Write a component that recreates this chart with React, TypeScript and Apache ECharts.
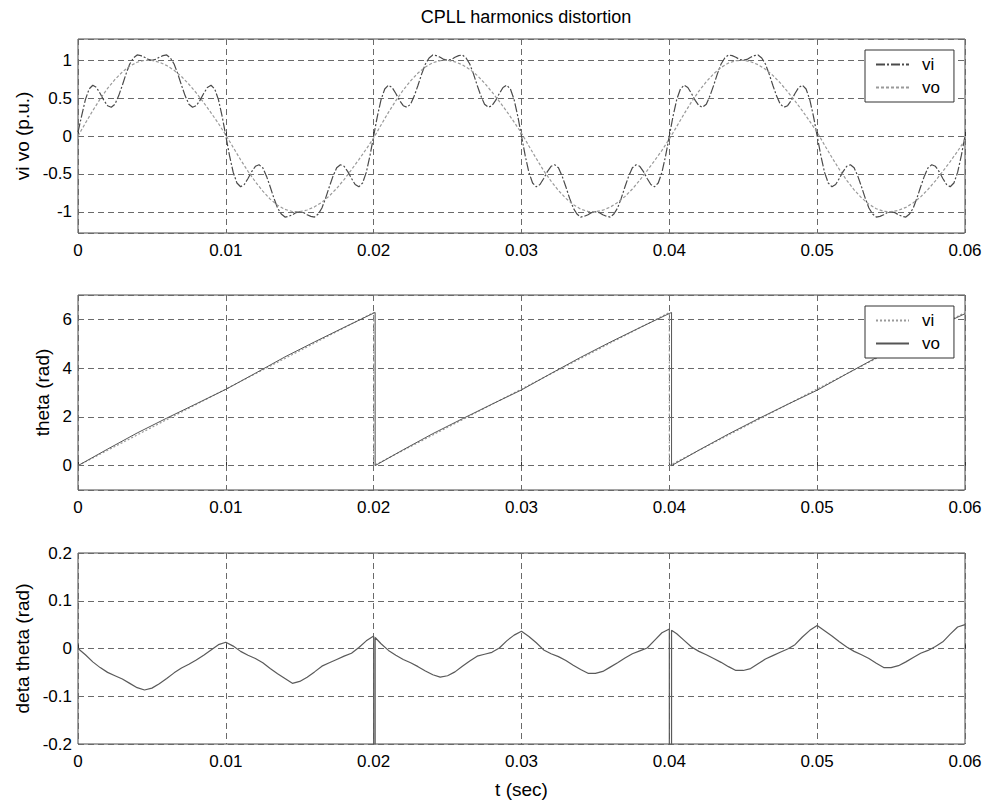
import React, { useEffect, useRef } from 'react';
import * as echarts from 'echarts';

const chartTitle = 'CPLL harmonics distortion';
const xTicks = [0, 0.01, 0.02, 0.03, 0.04, 0.05, 0.06];
const xTickLabels = ['0', '0.01', '0.02', '0.03', '0.04', '0.05', '0.06'];
const vTicks = [-1, -0.5, 0, 0.5, 1];
const vTickLabels = ['-1', '-0.5', '0', '0.5', '1'];
const thetaTicks = [0, 2, 4, 6];
const thetaTickLabels = ['0', '2', '4', '6'];
const detaTicks = [-0.2, -0.1, 0, 0.1, 0.2];
const detaTickLabels = ['-0.2', '-0.1', '0', '0.1', '0.2'];

// vi sampled every 0.25 ms (0 .. 60 ms)
const viStepSec = 0.00025;
const viValues = [
  0.05, 0.27, 0.48, 0.62, 0.67, 0.64, 0.56, 0.47, 0.40, 0.38, 0.42, 0.53, 0.67, 0.82, 0.95, 1.03, 1.07, 1.06, 1.04, 1.01, 1.00, 1.01, 1.04, 1.06, 1.07, 1.03, 0.95, 0.82, 0.67, 0.53, 0.42, 0.38, 0.40, 0.47, 0.56, 0.64, 0.67, 0.62, 0.48, 0.26,
  0, -0.26, -0.48, -0.62, -0.67, -0.64, -0.56, -0.47, -0.40, -0.38, -0.42, -0.53, -0.67, -0.82, -0.95, -1.03, -1.07, -1.06, -1.04, -1.01, -1.00, -1.01, -1.04, -1.06, -1.07, -1.03, -0.95, -0.82, -0.67, -0.53, -0.42, -0.38, -0.40, -0.47, -0.56, -0.64, -0.67, -0.62, -0.48, -0.26,
  0, 0.26, 0.48, 0.62, 0.67, 0.64, 0.56, 0.47, 0.40, 0.38, 0.42, 0.53, 0.67, 0.82, 0.95, 1.03, 1.07, 1.06, 1.04, 1.01, 1.00, 1.01, 1.04, 1.06, 1.07, 1.03, 0.95, 0.82, 0.67, 0.53, 0.42, 0.38, 0.40, 0.47, 0.56, 0.64, 0.67, 0.62, 0.48, 0.26,
  0, -0.26, -0.48, -0.62, -0.67, -0.64, -0.56, -0.47, -0.40, -0.38, -0.42, -0.53, -0.67, -0.82, -0.95, -1.03, -1.07, -1.06, -1.04, -1.01, -1.00, -1.01, -1.04, -1.06, -1.07, -1.03, -0.95, -0.82, -0.67, -0.53, -0.42, -0.38, -0.40, -0.47, -0.56, -0.64, -0.67, -0.62, -0.48, -0.26,
  0, 0.26, 0.48, 0.62, 0.67, 0.64, 0.56, 0.47, 0.40, 0.38, 0.42, 0.53, 0.67, 0.82, 0.95, 1.03, 1.07, 1.06, 1.04, 1.01, 1.00, 1.01, 1.04, 1.06, 1.07, 1.03, 0.95, 0.82, 0.67, 0.53, 0.42, 0.38, 0.40, 0.47, 0.56, 0.64, 0.67, 0.62, 0.48, 0.26,
  0, -0.26, -0.48, -0.62, -0.67, -0.64, -0.56, -0.47, -0.40, -0.38, -0.42, -0.53, -0.67, -0.82, -0.95, -1.03, -1.07, -1.06, -1.04, -1.01, -1.00, -1.01, -1.04, -1.06, -1.07, -1.03, -0.95, -0.82, -0.67, -0.53, -0.42, -0.38, -0.40, -0.47, -0.56, -0.64, -0.67, -0.62, -0.48, -0.26,
  0,
];

// vo sampled every 0.5 ms (0 .. 60 ms)
const voStepSec = 0.0005;
const voValues = [
  0, 0.169, 0.335, 0.489, 0.628, 0.746, 0.845, 0.922, 0.973, 0.998, 0.996, 0.974, 0.930, 0.867, 0.785, 0.683, 0.568, 0.442, 0.306, 0.165, 0.012,
  -0.151, -0.314, -0.466, -0.605, -0.727, -0.833, -0.914, -0.969, -0.996, -0.998, -0.977, -0.935, -0.874, -0.791, -0.691, -0.575, -0.445, -0.311, -0.172, -0.026,
  0.146, 0.312, 0.466, 0.606, 0.728, 0.831, 0.911, 0.967, 0.995, 0.998, 0.979, 0.939, 0.879, 0.800, 0.698, 0.581, 0.456, 0.324, 0.184, 0.037,
  -0.132, -0.297, -0.457, -0.596, -0.719, -0.823, -0.906, -0.964, -0.995, -0.999, -0.979, -0.939, -0.877, -0.798, -0.699, -0.584, -0.456, -0.326, -0.189, -0.040,
  0.125, 0.292, 0.451, 0.592, 0.716, 0.821, 0.904, 0.962, 0.994, 0.999, 0.980, 0.941, 0.880, 0.800, 0.701, 0.586, 0.462, 0.332, 0.194, 0.049,
  -0.120, -0.284, -0.441, -0.585, -0.711, -0.816, -0.900, -0.960, -0.993, -0.999, -0.981, -0.942, -0.882, -0.803, -0.705, -0.591, -0.466, -0.337, -0.201, -0.051,
];

// theta, [time ms, rad]
const thetaVi = [
  [0, 0], [2, 0.628], [4, 1.257], [6, 1.885], [8, 2.513], [10, 3.142], [12, 3.770], [14, 4.398], [16, 5.027], [18, 5.655], [20, 6.283],
  [20, 0], [22, 0.628], [24, 1.257], [26, 1.885], [28, 2.513], [30, 3.142], [32, 3.770], [34, 4.398], [36, 5.027], [38, 5.655], [40, 6.283],
  [40, 0], [42, 0.628], [44, 1.257], [46, 1.885], [48, 2.513], [50, 3.142], [52, 3.770], [54, 4.398], [56, 5.027], [58, 5.655], [60, 6.283],
];
const thetaVo = [
  [0, 0], [2, 0.678], [4, 1.339], [6, 1.948], [8, 2.537], [10, 3.129], [12, 3.791], [14, 4.461], [16, 5.076], [18, 5.671], [20, 6.257], [20.1, 6.283],
  [20.1, 0], [22, 0.651], [24, 1.312], [26, 1.922], [28, 2.521], [30, 3.106], [32, 3.781], [34, 4.442], [36, 5.066], [38, 5.660], [40, 6.242], [40.15, 6.283],
  [40.15, 0], [42, 0.634], [44, 1.295], [46, 1.917], [48, 2.514], [50, 3.094], [52, 3.767], [54, 4.429], [56, 5.055], [58, 5.659], [60, 6.233],
];

// deta theta, [time ms, rad]
const detaTheta = [
  [0, 0], [0.5, -0.013], [1, -0.028], [1.5, -0.040], [2, -0.050], [2.5, -0.057], [3, -0.064], [3.5, -0.073], [4, -0.082], [4.5, -0.087],
  [5, -0.083], [5.5, -0.074], [6, -0.063], [6.5, -0.051], [7, -0.041], [7.5, -0.033], [8, -0.024], [8.5, -0.014], [9, -0.003], [9.5, 0.008],
  [10, 0.013], [10.5, 0.005], [11, -0.006], [11.5, -0.014], [12, -0.021], [12.5, -0.030], [13, -0.042], [13.5, -0.053], [14, -0.063], [14.5, -0.073],
  [15, -0.069], [15.5, -0.060], [16, -0.049], [16.5, -0.037], [17, -0.030], [17.5, -0.023], [18, -0.016], [18.5, -0.010], [19, 0.002], [19.5, 0.016],
  [20, 0.026], [20, -6.26], [20.1, -6.26], [20.1, 0.023],
  [20.5, 0.010], [21, -0.004], [21.5, -0.014], [22, -0.023], [22.5, -0.030], [23, -0.038], [23.5, -0.047], [24, -0.055], [24.5, -0.060],
  [25, -0.057], [25.5, -0.049], [26, -0.037], [26.5, -0.026], [27, -0.016], [27.5, -0.012], [28, -0.008], [28.5, 0.001], [29, 0.016], [29.5, 0.028],
  [30, 0.036], [30.5, 0.025], [31, 0.012], [31.5, -0.003], [32, -0.011], [32.5, -0.017], [33, -0.025], [33.5, -0.035], [34, -0.044], [34.5, -0.052],
  [35, -0.052], [35.5, -0.048], [36, -0.039], [36.5, -0.030], [37, -0.020], [37.5, -0.011], [38, -0.005], [38.5, 0.001], [39, 0.017], [39.5, 0.033],
  [40, 0.041], [40, -6.24], [40.15, -6.24], [40.15, 0.038],
  [40.5, 0.031], [41, 0.017], [41.5, 0.003], [42, -0.006], [42.5, -0.013], [43, -0.021], [43.5, -0.029], [44, -0.038], [44.5, -0.046],
  [45, -0.046], [45.5, -0.042], [46, -0.032], [46.5, -0.022], [47, -0.015], [47.5, -0.008], [48, -0.001], [48.5, 0.008], [49, 0.024], [49.5, 0.038],
  [50, 0.048], [50.5, 0.037], [51, 0.026], [51.5, 0.014], [52, 0.003], [52.5, -0.006], [53, -0.013], [53.5, -0.021], [54, -0.031], [54.5, -0.040],
  [55, -0.040], [55.5, -0.036], [56, -0.028], [56.5, -0.019], [57, -0.010], [57.5, -0.004], [58, 0.004], [58.5, 0.014], [59, 0.030], [59.5, 0.045],
  [60, 0.050],
];

const FONT = 'Liberation Sans, Arial, sans-serif';

function labelFrom(ticks: number[], labels: string[]) {
  return (v: number) => {
    const i = ticks.findIndex((t) => Math.abs(t - v) < 1e-6);
    return i >= 0 ? labels[i] : '';
  };
}

const gridLine = { show: true, lineStyle: { color: '#6a6a6a', type: [6, 4] as any, width: 1 } };

function xAxis(gridIndex: number, withName: boolean) {
  return {
    type: 'value',
    gridIndex,
    min: 0,
    max: 0.06,
    interval: 0.01,
    axisLine: { show: false },
    axisTick: { show: true, inside: true, length: 4, lineStyle: { color: '#333' } },
    axisLabel: {
      color: '#000',
      fontSize: 17,
      fontFamily: FONT,
      margin: 9,
      formatter: labelFrom(xTicks, xTickLabels),
    },
    splitLine: gridLine,
    name: withName ? 't (sec)' : '',
    nameLocation: 'middle',
    nameGap: 36,
    nameTextStyle: { color: '#000', fontSize: 19, fontFamily: FONT },
  };
}

function yAxis(gridIndex: number, min: number, max: number, name: string, nameGap: number, ticks: number[], labels: string[], interval?: number) {
  const ax: any = {
    type: 'value',
    gridIndex,
    min,
    max,
    axisLine: { show: false },
    axisTick: { show: false },
    axisLabel: {
      color: '#000',
      fontSize: 17,
      fontFamily: FONT,
      margin: 6,
      formatter: labelFrom(ticks, labels),
    },
    splitLine: gridLine,
    name,
    nameLocation: 'middle',
    nameGap,
    nameTextStyle: { color: '#000', fontSize: 19, fontFamily: FONT },
  };
  if (interval) ax.interval = interval;
  return ax;
}

const toSec = (pairs: number[][]) => pairs.map((p) => [p[0] / 1000, p[1]]);

const hiddenSymbol = { color: 'rgba(0,0,0,0)', borderColor: 'rgba(0,0,0,0)', borderWidth: 0 };

export default function App() {
  const ref = useRef<HTMLDivElement>(null);
  useEffect(() => {
    const chart = echarts.init(ref.current!, null, { renderer: 'svg' });
    const viData = viValues.map((v, i) => [i * viStepSec, v]);
    const voData = voValues.map((v, i) => [i * voStepSec, v]);
    const grids = [
      { left: 78, top: 39, width: 887, height: 194 },
      { left: 78, top: 295, width: 887, height: 195 },
      { left: 78, top: 553, width: 887, height: 193 },
    ].map((g) => ({ ...g, show: true, borderColor: '#4a4a4a', borderWidth: 1, backgroundColor: 'transparent' }));

    const legendBase = {
      orient: 'vertical',
      itemWidth: 33,
      itemHeight: 14,
      itemGap: 6,
      padding: [6, 14, 6, 10],
      borderColor: '#333',
      borderWidth: 1,
      backgroundColor: '#fff',
      borderRadius: 0,
      itemStyle: { opacity: 0 },
      textStyle: { color: '#000', fontSize: 17, fontFamily: FONT, padding: [0, 0, 0, 8] },
      formatter: (n: string) => n.trim(),
    };

    chart.setOption({
      animation: false,
      backgroundColor: '#fff',
      title: {
        text: chartTitle,
        left: 521,
        textAlign: 'center',
        top: 3,
        textStyle: { color: '#000', fontSize: 18, fontWeight: 'normal', fontFamily: FONT },
      },
      legend: [
        { ...legendBase, left: 865, top: 50, data: ['vi', 'vo'] },
        { ...legendBase, left: 865, top: 306, data: ['vi ', 'vo '] },
      ],
      grid: grids,
      xAxis: [xAxis(0, false), xAxis(1, false), xAxis(2, true)],
      yAxis: [
        yAxis(0, -1.28, 1.28, 'vi vo (p.u.)', 44, vTicks, vTickLabels),
        yAxis(1, -1, 7, 'theta (rad)', 24, thetaTicks, thetaTickLabels),
        yAxis(2, -0.2, 0.2, 'deta theta (rad)', 44, detaTicks, detaTickLabels, 0.1),
      ],
      series: [
        {
          name: 'vi', type: 'line', xAxisIndex: 0, yAxisIndex: 0, data: viData,
          symbol: 'none', showSymbol: false, silent: true, itemStyle: hiddenSymbol,
          lineStyle: { color: '#4a4a4a', width: 1.2, type: [9, 2, 2, 2] },
        },
        {
          name: 'vo', type: 'line', xAxisIndex: 0, yAxisIndex: 0, data: voData,
          symbol: 'none', showSymbol: false, silent: true, itemStyle: hiddenSymbol,
          lineStyle: { color: '#9a9a9a', width: 1.2, type: [3, 2] },
        },
        {
          name: 'vi ', type: 'line', xAxisIndex: 1, yAxisIndex: 1, data: toSec(thetaVi),
          symbol: 'none', showSymbol: false, silent: true, itemStyle: hiddenSymbol,
          lineStyle: { color: '#9a9a9a', width: 1.2, type: [2, 2] },
        },
        {
          name: 'vo ', type: 'line', xAxisIndex: 1, yAxisIndex: 1, data: toSec(thetaVo),
          symbol: 'none', showSymbol: false, silent: true, itemStyle: hiddenSymbol,
          lineStyle: { color: '#555', width: 1, type: 'solid' },
        },
        {
          name: 'deta', type: 'line', xAxisIndex: 2, yAxisIndex: 2, data: toSec(detaTheta),
          symbol: 'none', showSymbol: false, silent: true, clip: true, itemStyle: hiddenSymbol,
          lineStyle: { color: '#5a5a5a', width: 1.2, type: 'solid' },
        },
      ],
    });
    return () => chart.dispose();
  }, []);
  return (
    <div
      ref={ref}
      style={{ position: 'fixed', left: 0, top: 0, width: 991, height: 800, background: '#fff' }}
    />
  );
}
